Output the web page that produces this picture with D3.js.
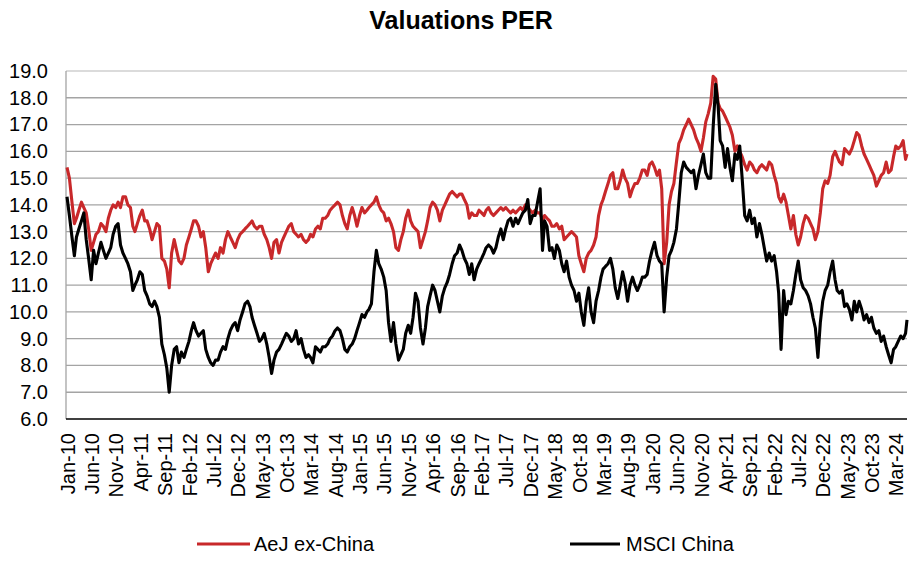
<!DOCTYPE html>
<html><head><meta charset="utf-8">
<script src="https://cdn.jsdelivr.net/npm/d3@7"></script>
<style>
body{margin:0;background:#fff}
svg{display:block}
text{font-family:"Liberation Sans",Arial,Helvetica,sans-serif;fill:#000}
</style>
</head><body>
<svg id="chart" width="922" height="570"></svg>
<script>
const chartTitle = "Valuations PER";
const seriesNames = ["AeJ ex-China", "MSCI China"];
const seriesColors = ["#c8282a", "#000000"];
const yTicks = [6,7,8,9,10,11,12,13,14,15,16,17,18,19];
const xTickLabels = ["Jan-10","Jun-10","Nov-10","Apr-11","Sep-11","Feb-12","Jul-12","Dec-12","May-13","Oct-13","Mar-14","Aug-14","Jan-15","Jun-15","Nov-15","Apr-16","Sep-16","Feb-17","Jul-17","Dec-17","May-18","Oct-18","Mar-19","Aug-19","Jan-20","Jun-20","Nov-20","Apr-21","Sep-21","Feb-22","Jul-22","Dec-22","May-23","Oct-23","Mar-24"];
// observations on the 1st and 16th of each month from Jan 2010, last one on lastDate
const firstYear = 2010;
const lastDate = "2024-05-10";

const aejValues = [
 15.4,15.0,14.1,13.3,13.5,13.8,14.1,13.9,13.7,13.1,12.3,12.6,12.9,13.0,13.3,13.2,13.0,13.5,13.8,14.0,13.9,14.1,13.9,14.3, // 2010
 14.3,14.0,13.9,13.2,13.0,13.3,13.6,13.8,13.4,13.4,13.1,12.7,13.0,13.3,13.2,12.0,11.9,11.6,10.9,12.2,12.7,12.3,11.9,11.8, // 2011
 12.0,12.5,12.8,13.1,13.4,13.4,13.2,12.8,13.0,12.4,11.5,11.8,12.0,12.2,12.0,12.4,12.2,12.7,13.0,12.8,12.6,12.4,12.7,12.9, // 2012
 13.0,13.1,13.2,13.3,13.4,13.2,13.1,13.2,13.2,12.9,12.7,12.4,12.0,12.6,12.7,12.2,12.6,12.8,13.0,13.2,13.3,13.0,12.9,12.8, // 2013
 12.9,12.7,12.6,12.7,12.9,12.8,13.1,13.2,13.1,13.5,13.5,13.6,13.8,13.9,14.0,14.1,14.0,13.6,13.3,13.1,13.6,13.9,13.6,13.2, // 2014
 13.6,13.9,13.7,13.8,13.9,14.0,14.1,14.3,14.0,13.8,13.7,13.4,13.5,13.3,13.0,12.4,12.3,12.7,13.0,13.5,13.8,13.4,13.2,13.1, // 2015
 13.0,12.4,12.7,13.0,13.4,13.9,14.1,14.0,13.8,13.4,13.8,14.0,14.2,14.4,14.5,14.4,14.3,14.4,14.4,14.2,14.0,13.5,13.7,13.6, // 2016
 13.6,13.8,13.7,13.6,13.8,13.9,13.7,13.6,13.7,13.8,13.9,13.8,13.9,13.8,13.7,13.8,13.7,13.8,13.9,13.8,14.0,13.9,13.8,13.7, // 2017
 13.8,13.7,13.7,13.4,13.6,13.5,13.4,13.2,13.2,13.3,13.1,13.2,12.7,12.8,12.9,13.0,12.9,12.8,12.1,11.8,11.5,12.0,12.2,12.3, // 2018
 12.5,12.8,13.6,14.0,14.2,14.5,14.8,15.1,15.2,14.6,14.6,14.9,15.3,15.0,14.8,14.3,14.6,14.8,14.8,15.0,15.3,15.3,15.1,15.5, // 2019
 15.6,15.4,15.1,15.3,14.6,11.8,12.6,14.0,14.5,14.8,15.6,16.3,16.5,16.8,17.0,17.2,17.0,16.8,16.5,16.3,16.0,16.5,17.1,17.4, // 2020
 17.8,18.8,18.7,17.8,17.6,17.5,17.3,17.1,16.9,16.6,16.0,16.2,16.0,15.8,15.5,15.3,15.6,15.5,15.3,15.2,15.4,15.5,15.4,15.3, // 2021
 15.6,15.5,15.1,14.8,14.3,14.1,14.4,14.1,13.6,13.1,13.6,12.9,12.5,12.8,13.3,13.6,13.5,13.3,13.1,12.7,13.0,13.7,14.6,14.9, // 2022
 14.8,15.1,15.8,16.0,15.8,15.6,15.5,16.1,16.0,15.9,16.1,16.4,16.7,16.6,16.2,15.9,15.7,15.5,15.3,15.1,14.7,14.9,15.1,15.2, // 2023
 15.6,15.2,15.3,15.8,16.2,16.1,16.2,16.4,15.7, // 2024
 15.9 // last date
];

const msciValues = [
 14.3,13.6,12.8,12.1,12.8,13.1,13.4,13.7,12.7,12.0,11.2,12.3,11.8,12.2,12.6,12.3,12.0,12.2,12.4,12.9,13.2,13.3,12.5,12.2, // 2010
 12.0,11.8,11.5,10.8,11.0,11.2,11.5,11.4,10.8,10.6,10.3,10.2,10.4,10.2,9.8,8.8,8.4,7.9,7.0,8.0,8.6,8.7,8.1,8.5, // 2011
 8.3,8.6,8.9,9.3,9.6,9.3,9.1,9.2,9.3,8.6,8.3,8.1,8.0,8.2,8.2,8.5,8.7,8.6,9.0,9.3,9.5,9.6,9.3,9.7, // 2012
 10.0,10.3,10.4,10.2,9.8,9.5,9.2,8.9,9.0,9.2,8.8,8.3,7.7,8.2,8.5,8.6,8.8,9.0,9.2,9.1,8.9,9.0,9.3,8.8, // 2013
 9.0,8.6,8.3,8.4,8.3,8.1,8.7,8.6,8.5,8.7,8.7,8.8,9.0,9.1,9.3,9.4,9.3,9.0,8.6,8.5,8.7,8.8,9.0,9.3, // 2014
 9.6,9.9,9.8,10.0,10.1,10.3,11.5,12.3,11.8,11.6,11.3,10.8,9.6,8.9,9.6,8.8,8.2,8.4,8.6,9.2,9.5,9.2,9.8,10.7, // 2015
 10.4,9.4,8.8,9.4,10.2,10.6,11.0,10.8,10.4,10.0,10.6,10.9,11.1,11.4,11.8,12.1,12.2,12.5,12.3,12.0,11.8,11.4,11.8,11.2, // 2016
 11.6,11.8,12.0,12.2,12.4,12.5,12.4,12.2,12.4,12.8,13.1,12.7,13.1,13.4,13.5,13.2,13.5,13.3,13.5,13.7,13.8,14.2,13.3,13.6, // 2017
 13.6,14.1,14.6,12.3,13.4,13.2,12.3,12.4,12.0,12.5,12.3,11.8,11.5,11.9,11.3,11.0,10.8,10.4,10.7,10.0,9.5,10.4,10.9,10.0, // 2018
 9.6,10.4,10.8,11.3,11.6,11.7,11.8,12.0,11.6,10.9,10.5,11.0,11.5,11.1,10.4,11.0,11.3,11.0,10.8,11.0,11.3,11.3,11.4,11.9, // 2019
 12.3,12.6,12.1,11.9,11.8,10.0,11.3,12.1,12.3,12.6,13.1,14.1,15.2,15.6,15.4,15.3,15.2,15.3,14.6,15.1,15.5,15.9,15.2,15.0, // 2020
 15.0,16.9,18.5,17.7,16.4,16.2,15.4,16.1,15.4,14.9,15.9,15.7,16.2,15.0,13.6,13.4,13.8,13.3,13.5,12.8,13.3,12.9,12.4,11.9, // 2021
 12.2,11.9,12.1,11.5,10.7,8.6,10.8,9.9,10.4,10.3,10.8,11.4,11.9,11.2,10.9,10.8,10.6,10.3,9.8,9.4,8.3,9.6,10.4,10.8, // 2022
 11.0,11.5,11.9,11.2,10.8,10.7,10.8,10.2,10.3,10.1,9.7,10.4,10.0,10.4,10.1,9.7,9.9,9.6,9.8,9.4,9.2,9.3,8.9,9.1, // 2023
 8.7,8.4,8.1,8.6,8.7,8.9,9.1,9.0,9.2, // 2024
 9.7 // last date
];

const parseIso = d3.timeParse("%Y-%m-%d");
const parseTick = d3.timeParse("%b-%y");
const n = aejValues.length;
const dates = d3.range(n).map(i => i === n - 1
  ? parseIso(lastDate)
  : new Date(firstYear + Math.floor(i / 24), Math.floor((i % 24) / 2), i % 2 ? 16 : 1));

const svg = d3.select("#chart");
const plotLeft = 66, plotRight = 907, plotTop = 71, plotBottom = 419;

const x = d3.scaleTime().domain([dates[0], dates[n - 1]]).range([67, plotRight]);
const y = d3.scaleLinear().domain([6, 19]).range([plotBottom, plotTop]);

// title
svg.append("text").attr("x", 461).attr("y", 29).attr("text-anchor", "middle")
  .style("font-size", "25px").style("font-weight", "bold").text(chartTitle);

// gridlines
svg.append("g").selectAll("line").data(yTicks.filter(t => t > 6)).join("line")
  .attr("x1", plotLeft).attr("x2", plotRight)
  .attr("y1", d => y(d)).attr("y2", d => y(d))
  .attr("stroke", d => d === 19 ? "#cfcfcf" : "#a4a4a4").attr("stroke-width", 1.3);

// left axis line
svg.append("line").attr("x1", plotLeft).attr("x2", plotLeft).attr("y1", plotTop).attr("y2", plotBottom)
  .attr("stroke", "#a4a4a4").attr("stroke-width", 1.3);

// y axis labels
const yAxis = svg.append("g").attr("transform", `translate(${plotLeft},0)`)
  .call(d3.axisLeft(y).tickValues(yTicks).tickFormat(d3.format(".1f")).tickSize(0).tickPadding(18));
yAxis.select(".domain").remove();
yAxis.selectAll("text").style("font-size", "20px").style("font-family", '"Liberation Sans",Arial,sans-serif');

// x axis
const xAxis = svg.append("g").attr("transform", `translate(0,${plotBottom})`)
  .call(d3.axisBottom(x).tickValues(xTickLabels.map(parseTick)).tickFormat(d3.timeFormat("%b-%y")).tickSize(0));
xAxis.select(".domain").remove();
xAxis.selectAll("text")
  .attr("transform", "rotate(-90)").attr("x", -14).attr("y", 0).attr("dy", "0.36em")
  .style("text-anchor", "end").style("font-size", "20px").style("font-family", '"Liberation Sans",Arial,sans-serif');

svg.append("line").attr("x1", plotLeft).attr("x2", plotRight).attr("y1", plotBottom).attr("y2", plotBottom)
  .attr("stroke", "#000").attr("stroke-width", 1.6);

// series
const line = d3.line().x((d, i) => x(dates[i])).y(d => y(d));
[aejValues, msciValues].forEach((vals, k) => {
  svg.append("path").datum(vals).attr("d", line)
    .attr("fill", "none").attr("stroke", seriesColors[k]).attr("stroke-width", 3.1)
    .attr("stroke-linejoin", "round");
});

// legend
const legendPos = [[197, 250, 254], [570, 620, 626]];
seriesNames.forEach((name, k) => {
  const [a, b, t] = legendPos[k];
  svg.append("line").attr("x1", a).attr("x2", b).attr("y1", 544).attr("y2", 544)
    .attr("stroke", seriesColors[k]).attr("stroke-width", 3);
  svg.append("text").attr("x", t).attr("y", 551).style("font-size", "20px").text(name);
});
</script>
</body></html>
